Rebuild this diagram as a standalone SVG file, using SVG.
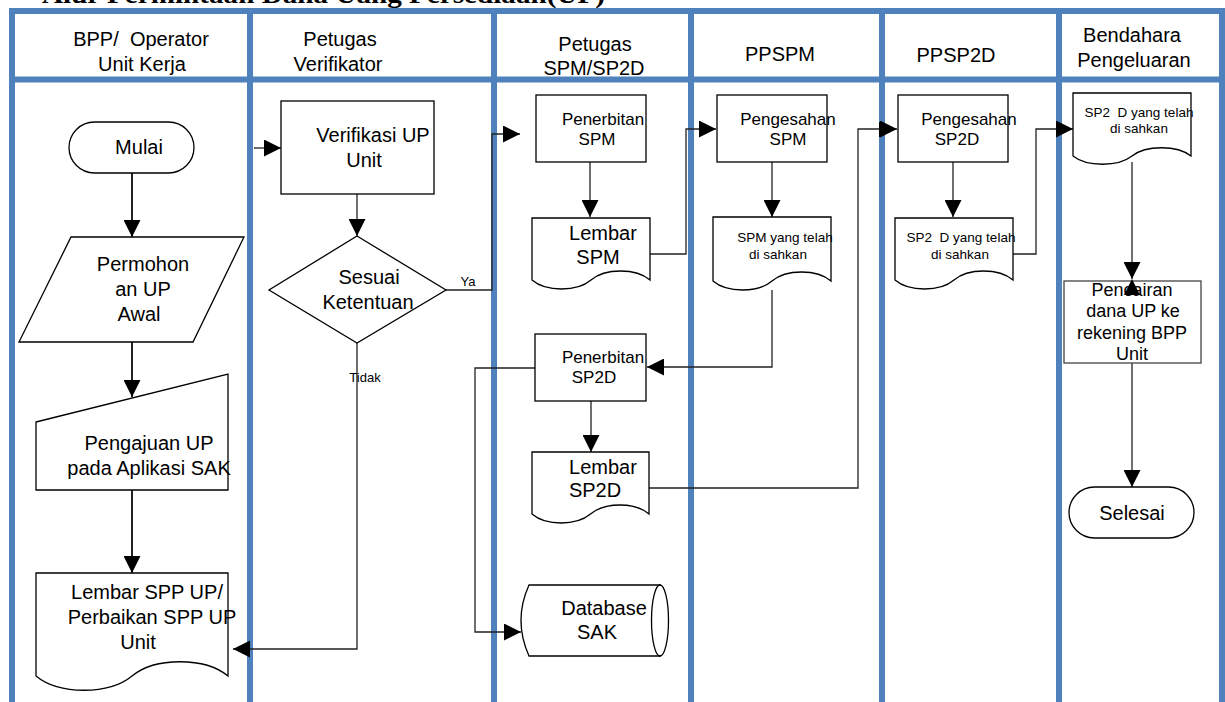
<svg xmlns="http://www.w3.org/2000/svg" width="1225" height="702" viewBox="0 0 1225 702">
<style>
.lane{stroke:#4F81BD;stroke-width:6;fill:none}
.shape{fill:#fff;stroke:#000;stroke-width:1.3}
.conn{fill:none;stroke:#222;stroke-width:1.3}
.conn2{fill:none;stroke:#222;stroke-width:2}
.t{font-family:"Liberation Sans",Arial,sans-serif;fill:#000;text-anchor:middle}
.f20{font-size:20px}
.f18{font-size:18px}
.f17{font-size:17px}
.f13{font-size:13.5px}
.title{font-family:"Liberation Serif","Times New Roman",serif;font-weight:bold;font-size:26px;fill:#000}
</style>
<defs>
<marker id="ah" viewBox="0 0 10 10" refX="10" refY="5" markerWidth="17" markerHeight="17" markerUnits="userSpaceOnUse" orient="auto">
<path d="M0,0 L10,5 L0,10 Z" fill="#000"/>
</marker>
</defs>
<rect width="1225" height="702" fill="#fff"/>
<text class="title" x="42" y="3" textLength="563" lengthAdjust="spacingAndGlyphs">Alur Permintaan Dana Uang Persediaan(UP)</text>
<g id="lanes">
<line class="lane" x1="9" y1="11" x2="1225" y2="11"/>
<line class="lane" x1="9" y1="79.5" x2="1225" y2="79.5"/>
<line class="lane" x1="12" y1="8" x2="12" y2="702"/>
<line class="lane" x1="250" y1="8" x2="250" y2="702"/>
<line class="lane" x1="494" y1="8" x2="494" y2="702"/>
<line class="lane" x1="691" y1="8" x2="691" y2="702"/>
<line class="lane" x1="882" y1="8" x2="882" y2="702"/>
<line class="lane" x1="1059" y1="8" x2="1059" y2="702"/>
<line class="lane" x1="1222" y1="8" x2="1222" y2="702"/>
</g>
<g id="headers" class="t f20">
<text x="141" y="46" xml:space="preserve">BPP/  Operator</text>
<text x="142" y="71">Unit Kerja</text>
<text x="340" y="46">Petugas</text>
<text x="338" y="71">Verifikator</text>
<text x="595" y="51">Petugas</text>
<text x="594" y="75">SPM/SP2D</text>
<text x="780" y="61">PPSPM</text>
<text x="956" y="62">PPSP2D</text>
<text x="1132" y="42">Bendahara</text>
<text x="1134" y="67">Pengeluaran</text>
</g>
<g id="connectors">
<path class="conn2" d="M132,173 V237" marker-end="url(#ah)"/>
<path class="conn2" d="M132,342 V397" marker-end="url(#ah)"/>
<path class="conn2" d="M132,490 V573" marker-end="url(#ah)"/>
<path class="conn" d="M254,148 H281" marker-end="url(#ah)"/>
<path class="conn" d="M357,194 V236" marker-end="url(#ah)"/>
<path class="conn" d="M446,290 H492 V134 H520" marker-end="url(#ah)"/>
<path class="conn" d="M357,343 V649 H233" marker-end="url(#ah)"/>
<path class="conn" d="M590,162 V217" marker-end="url(#ah)"/>
<path class="conn" d="M650,254 H686 V129 H716" marker-end="url(#ah)"/>
<path class="conn" d="M772,162 V217" marker-end="url(#ah)"/>
<path class="conn" d="M772,290 V367 H647" marker-end="url(#ah)"/>
<path class="conn" d="M591,401 V452" marker-end="url(#ah)"/>
<path class="conn" d="M649,488 H858 V129 H897" marker-end="url(#ah)"/>
<line x1="880" y1="122" x2="880" y2="137" stroke="#000" stroke-width="2"/>
<path class="conn" d="M535,368 H475 V632 H521" marker-end="url(#ah)"/>
<path class="conn" d="M953,162 V217" marker-end="url(#ah)"/>
<path class="conn" d="M1013,254 H1036 V129 H1073" marker-end="url(#ah)"/>
<path class="conn" d="M1132,162 V279" marker-end="url(#ah)"/>
<path class="conn" d="M1132,363 V487" marker-end="url(#ah)"/>
</g>
<g id="n-mulai">
<rect class="shape" x="69" y="122" width="125" height="51" rx="25.5"/>
<text class="t f20" x="139" y="154">Mulai</text>
</g>
<g id="n-permohonan">
<polygon class="shape" points="71,237 244,237 193,342 19,342"/>
<text class="t f20" x="143" y="271">Permohon</text>
<text class="t f20" x="143" y="296">an UP</text>
<text class="t f20" x="139" y="321">Awal</text>
</g>
<g id="n-pengajuan">
<polygon class="shape" points="36,422 228,374 228,490 36,490"/>
<text class="t f20" x="149" y="450">Pengajuan UP</text>
<text class="t f20" x="149" y="475">pada Aplikasi SAK</text>
</g>
<g id="n-lembar-spp">
<path class="shape" d="M36,573 H228 V676 C205,657 155,657 132,676 C109,695 59,695 36,676 Z"/>
<text class="t f20" x="147" y="599">Lembar SPP UP/</text>
<text class="t f20" x="152" y="624">Perbaikan SPP UP</text>
<text class="t f20" x="138" y="649">Unit</text>
</g>
<g id="n-verifikasi">
<rect class="shape" x="281" y="101" width="153" height="93"/>
<text class="t f20" x="373" y="142">Verifikasi UP</text>
<text class="t f20" x="364" y="167">Unit</text>
</g>
<g id="n-sesuai">
<polygon class="shape" points="357,236 446,290 357,343 269,290"/>
<text class="t f20" x="369" y="284">Sesuai</text>
<text class="t f20" x="368" y="309">Ketentuan</text>
</g>
<g id="labels" class="t">
<text x="468" y="286" style="font-size:13px">Ya</text>
<text x="365" y="382" style="font-size:13px">Tidak</text>
</g>
<g id="n-penerbitan-spm">
<rect class="shape" x="536" y="95" width="110" height="67"/>
<text class="t f17" x="603" y="125">Penerbitan</text>
<text class="t f17" x="597" y="145">SPM</text>
</g>
<g id="n-lembar-spm">
<path class="shape" d="M532,218 H650 V280 C636,268 605,268 591,280 C577,292 546,292 532,280 Z"/>
<text class="t f20" x="603" y="240">Lembar</text>
<text class="t f20" x="598" y="264">SPM</text>
</g>
<g id="n-pengesahan-spm">
<rect class="shape" x="717" y="95" width="110" height="67"/>
<text class="t f17" x="788" y="125">Pengesahan</text>
<text class="t f17" x="788" y="145">SPM</text>
</g>
<g id="n-spm-sah">
<path class="shape" d="M713,217 H831 V281 C817,269 786,269 772,281 C758,293 727,293 713,281 Z"/>
<text class="t f13" x="785" y="242">SPM yang telah</text>
<text class="t f13" x="778" y="259">di sahkan</text>
</g>
<g id="n-penerbitan-sp2d">
<rect class="shape" x="535" y="334" width="111" height="67"/>
<text class="t f17" x="603" y="363">Penerbitan</text>
<text class="t f17" x="594" y="383">SP2D</text>
</g>
<g id="n-lembar-sp2d">
<path class="shape" d="M532,452 H649 V514 C635,502 605,502 590.5,514 C576,526 546,526 532,514 Z"/>
<text class="t f20" x="603" y="474">Lembar</text>
<text class="t f20" x="595" y="497">SP2D</text>
</g>
<g id="n-database">
<path class="shape" d="M661,585 H529 Q513,620.5 529,656 H661"/>
<ellipse class="shape" cx="660" cy="620.5" rx="8.5" ry="35.5" fill="none" style="fill:none"/>
<text class="t f20" x="604" y="615">Database</text>
<text class="t f20" x="597" y="639">SAK</text>
</g>
<g id="n-pengesahan-sp2d">
<rect class="shape" x="898" y="95" width="110" height="67"/>
<text class="t f17" x="969" y="125">Pengesahan</text>
<text class="t f17" x="957" y="145">SP2D</text>
</g>
<g id="n-sp2d-sah">
<path class="shape" d="M895,218 H1013 V280 C999,268 968,268 954,280 C940,292 909,292 895,280 Z"/>
<text class="t f13" x="961" y="242" xml:space="preserve">SP2  D yang telah</text>
<text class="t f13" x="960" y="259">di sahkan</text>
</g>
<g id="n-bend-doc">
<path class="shape" d="M1073,93 H1191 V156 C1177,145 1146,145 1132,156 C1118,167 1087,167 1073,156 Z"/>
<text class="t f13" x="1139" y="117" xml:space="preserve">SP2  D yang telah</text>
<text class="t f13" x="1139" y="133">di sahkan</text>
</g>
<g id="n-pencairan">
<rect class="shape" x="1064" y="281" width="137" height="82" style="stroke:#444"/>
<polygon points="1132,279 1140,295 1124,295" fill="#000"/>
<text class="t f18" x="1132" y="296">Pencairan</text>
<text class="t f18" x="1133" y="317">dana UP ke</text>
<text class="t f18" x="1132" y="339">rekening BPP</text>
<text class="t f18" x="1132" y="360">Unit</text>
</g>
<g id="n-selesai">
<rect class="shape" x="1069" y="487" width="125" height="51" rx="25.5"/>
<text class="t f20" x="1132" y="520">Selesai</text>
</g>
</svg>
